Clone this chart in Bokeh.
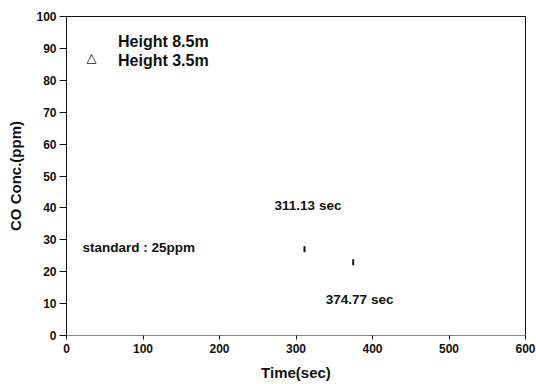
from bokeh.plotting import figure
from bokeh.models import (Range1d, Legend, LegendItem, Label, FixedTicker,
                          ColumnDataSource, CDSView, IndexFilter)
from bokeh.embed import file_html
from bokeh.resources import INLINE

# CO concentration readings marked on the chart
times = [311.13, 374.77]          # sec
conc = [27.0, 23.0]               # ppm

x_ticks = [0, 100, 200, 300, 400, 500, 600]
y_ticks = [0, 10, 20, 30, 40, 50, 60, 70, 80, 90, 100]

series_names = ["Height 8.5m", "Height 3.5m"]

FONT = "Liberation Sans"

p = figure(width=536, height=384, output_backend="svg", toolbar_location=None,
           x_range=Range1d(0, 600), y_range=Range1d(0, 100),
           min_border_left=66, min_border_right=11,
           min_border_top=16, min_border_bottom=49)

p.grid.visible = False
p.outline_line_color = "#111111"
p.outline_line_width = 1
p.background_fill_color = "white"
p.border_fill_color = "white"

# axes
p.xaxis.ticker = FixedTicker(ticks=x_ticks)
p.yaxis.ticker = FixedTicker(ticks=y_ticks)
for ax in (p.xaxis[0], p.yaxis[0]):
    ax.minor_tick_line_color = None
    ax.major_tick_in = 0
    ax.major_label_text_font = FONT
    ax.major_label_text_font_style = "bold"
    ax.major_label_text_font_size = "12px"
    ax.major_label_text_color = "#111111"
    ax.axis_label_text_font = FONT
    ax.axis_label_text_font_style = "bold"
    ax.axis_label_text_font_size = "15px"
    ax.axis_label_text_color = "#111111"
    ax.major_tick_line_color = "#111111"

p.xaxis.axis_label = "Time(sec)"
p.xaxis.major_tick_out = 4
p.xaxis.major_label_standoff = 4
p.xaxis.axis_label_standoff = 8
p.xaxis.axis_line_color = "#888888"

p.yaxis.axis_label = "CO Conc.(ppm)"
p.yaxis.major_tick_out = 7
p.yaxis.major_label_standoff = 3
p.yaxis.axis_label_standoff = 9
p.yaxis.axis_line_color = "#111111"

# measured points
src = ColumnDataSource(dict(t=times, c=conc))
p.scatter("t", "c", source=src, marker="dash", angle=1.5708, size=6,
          line_color="#111111", line_width=2)

# legend: text entries, the 3.5m symbol is drawn as an open triangle label
r85 = p.scatter("t", "c", source=src, view=CDSView(filter=IndexFilter([])),
                fill_alpha=0, line_alpha=0)
r35 = p.scatter("t", "c", source=src, view=CDSView(filter=IndexFilter([])),
                fill_alpha=0, line_alpha=0)
legend = Legend(items=[LegendItem(label=series_names[0], renderers=[r85]),
                       LegendItem(label=series_names[1], renderers=[r35])],
                location=(15, 265), padding=0, margin=0, spacing=1,
                glyph_width=20, glyph_height=18, label_height=18,
                label_standoff=17, border_line_alpha=0, background_fill_alpha=0,
                label_text_font=FONT, label_text_font_style="bold",
                label_text_font_size="16px", label_text_color="#111111")
p.add_layout(legend)
p.add_layout(Label(x=32.7, y=87.0, text="\u25b3", text_font="DejaVu Sans",
                   text_font_size="13px", text_color="#111111",
                   text_align="center", text_baseline="middle"))

# annotations
for txt, x, y in [("standard : 25ppm", 21, 27.6),
                  ("311.13 sec", 272, 40.8),
                  ("374.77 sec", 339, 11.3)]:
    p.add_layout(Label(x=x, y=y, text=txt, text_font=FONT, text_font_style="bold",
                       text_font_size="13.5px", text_color="#111111",
                       text_align="left", text_baseline="middle"))

open("out.html", "w").write(file_html(p, INLINE))
